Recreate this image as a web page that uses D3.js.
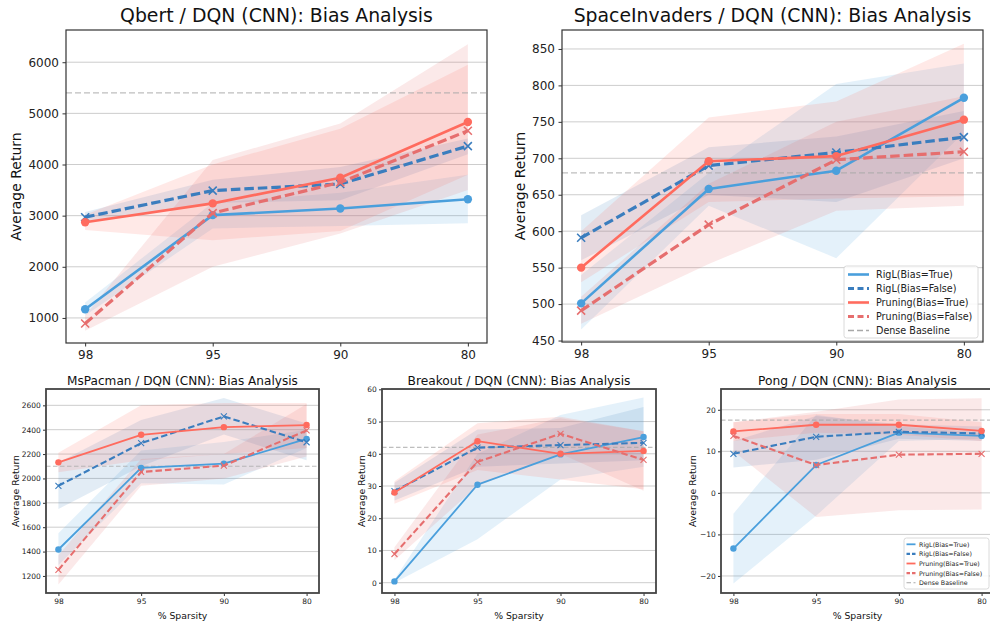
<!DOCTYPE html>
<html>
<head>
<meta charset="utf-8">
<script src="https://cdn.jsdelivr.net/npm/d3@7"></script>
<style>
html,body{margin:0;padding:0;background:#fff;}
svg{display:block;font-family:"DejaVu Sans",sans-serif;}
</style>
</head>
<body>
<svg id="chart" width="990" height="622"></svg>
<script>
// ---------------- DATA ----------------
const sparsity = ["98", "95", "90", "80"];
const methods = ["RigL(Bias=True)", "RigL(Bias=False)", "Pruning(Bias=True)", "Pruning(Bias=False)"];
const baselineLabel = "Dense Baseline";
const titles = [
  "Qbert / DQN (CNN): Bias Analysis",
  "SpaceInvaders / DQN (CNN): Bias Analysis",
  "MsPacman / DQN (CNN): Bias Analysis",
  "Breakout / DQN (CNN): Bias Analysis",
  "Pong / DQN (CNN): Bias Analysis"
];
const baselines = [5400, 680, 2100, 42, 17.5];

// order within each: RigL(True), RigL(False), Pruning(True), Pruning(False)
const qbertMean = [[1170, 3010, 3140, 3320], [2970, 3490, 3620, 4360], [2870, 3240, 3740, 4830], [890, 3050, 3650, 4660]];
const qbertLow  = [[1050, 2750, 2800, 2850], [2880, 3250, 3300, 4200], [2720, 2520, 2700, 3800], [750, 2000, 2650, 3500]];
const qbertHigh = [[1300, 3250, 3450, 3800], [3070, 3700, 3950, 4510], [3020, 4000, 4700, 5950], [1050, 4090, 4800, 6350]];

const invadersMean = [[501, 658, 683, 783], [591, 690, 708, 729], [550, 696, 703, 753], [491, 609, 698, 709]];
const invadersLow  = [[465, 635, 563, 735], [560, 650, 640, 700], [530, 640, 645, 648], [473, 555, 628, 635]];
const invadersHigh = [[540, 680, 802, 830], [622, 715, 730, 765], [600, 756, 778, 857], [510, 665, 750, 785]];

const pacmanMean = [[1417, 2086, 2121, 2325], [1940, 2289, 2509, 2297], [2132, 2358, 2421, 2438], [1250, 2053, 2105, 2394]];
const pacmanLow  = [[1290, 1960, 1950, 2250], [1750, 2100, 2360, 2150], [2050, 2150, 2200, 2250], [1130, 1940, 2000, 2180]];
const pacmanHigh = [[1550, 2230, 2300, 2400], [2130, 2480, 2660, 2450], [2210, 2600, 2620, 2620], [1370, 2160, 2200, 2610]];

const breakoutMean = [[0.4, 30.4, 39.8, 45.2], [28.4, 41.9, 42.7, 43.4], [28.0, 43.9, 40.0, 40.9], [8.9, 37.5, 46.2, 38.1]];
const breakoutLow  = [[0, 13.5, 32, 36], [25.5, 36, 37, 38], [24.5, 35, 32, 29], [7, 30, 40, 28.5]];
const breakoutHigh = [[1, 40, 52, 57.5], [31, 47.5, 48, 54.5], [31.5, 49.5, 51.5, 47], [11, 46, 51, 47]];

const pongMean = [[-13.4, 6.7, 14.5, 13.7], [9.4, 13.5, 14.7, 14.3], [14.8, 16.4, 16.4, 14.9], [13.7, 6.7, 9.2, 9.4]];
const pongLow  = [[-21.8, -5.5, 12.5, 13], [6.1, 8, 13, 12.5], [12.5, 14.5, 14, 12.5], [10, -5.8, -4.2, -4]];
const pongHigh = [[-5, 18.8, 16, 14.5], [12.5, 18.5, 16.5, 16], [17, 19, 19, 17], [17, 19.5, 22.5, 22.8]];

const qbertTicks = [1000, 2000, 3000, 4000, 5000, 6000];
const invadersTicks = [450, 500, 550, 600, 650, 700, 750, 800, 850];
const pacmanTicks = [1200, 1400, 1600, 1800, 2000, 2200, 2400, 2600];
const breakoutTicks = [0, 10, 20, 30, 40, 50, 60];
const pongTicks = [-20, -10, 0, 10, 20];

const yDomains = [[510, 6630], [448, 876], [1060, 2734], [-3.2, 60.1], [-24.1, 25.0]];

// ---------------- STYLE ----------------
const colors = ["#4a9fdc", "#3a7dbe", "#ff6b5e", "#e66e6e"];
const dashedMethod = [false, true, false, true];
const circleMethod = [true, false, true, false];

const big = {title: 17, tick: 12, label: 14, lw: 2.6, lwDash: 3.2, dash: "9.5,4", r: 4.2, xs: 4, baseW: 1.4, baseDash: "6,3", frame: "#333", frameW: 1.2, tickLen: 3.5, tickPad: 3.5};
const small = {title: 12, tick: 7.5, label: 9.3, lw: 1.8, lwDash: 2.1, dash: "6.5,3", r: 3.2, xs: 3, baseW: 1.1, baseDash: "4.5,2.5", frame: "#444", frameW: 1.8, tickLen: 3, tickPad: 2.2};

const panels = [
  {x: 66, y: 30, w: 421, h: 313, st: big, titleW: 313, mean: qbertMean, lo: qbertLow, hi: qbertHigh, ticks: qbertTicks, ylx: 16, xlabel: false, legend: false},
  {x: 562, y: 30, w: 421, h: 312, st: big, titleW: 398, mean: invadersMean, lo: invadersLow, hi: invadersHigh, ticks: invadersTicks, ylx: 520, xlabel: false, legend: "big"},
  {x: 46, y: 389, w: 273, h: 204, st: small, titleW: 231, mean: pacmanMean, lo: pacmanLow, hi: pacmanHigh, ticks: pacmanTicks, ylx: 15, xlabel: true, legend: false},
  {x: 382, y: 389, w: 274, h: 204, st: small, titleW: 223, mean: breakoutMean, lo: breakoutLow, hi: breakoutHigh, ticks: breakoutTicks, ylx: 361, xlabel: true, legend: false},
  {x: 721, y: 389, w: 273, h: 204, st: small, titleW: 199, mean: pongMean, lo: pongLow, hi: pongHigh, ticks: pongTicks, ylx: 692, xlabel: true, legend: "small"}
];

const svg = d3.select("#chart");

function fitText(sel, targetW) {
  const node = sel.node();
  const fs = parseFloat(sel.attr("font-size"));
  const w = node.getComputedTextLength();
  if (w > 0) sel.attr("font-size", (fs * targetW / w).toFixed(2));
}

function xMarker(g, cx, cy, s, color, sw) {
  g.append("path")
    .attr("d", `M${cx - s},${cy - s}L${cx + s},${cy + s}M${cx - s},${cy + s}L${cx + s},${cy - s}`)
    .attr("stroke", color).attr("stroke-width", sw).attr("fill", "none");
}

panels.forEach((p, pi) => {
  const st = p.st;
  const g = svg.append("g").attr("transform", `translate(${p.x},${p.y})`);
  const x = d3.scaleLinear().domain([-0.15, 3.15]).range([0, p.w]);
  const y = d3.scaleLinear().domain(yDomains[pi]).range([p.h, 0]);

  const defs = svg.append("defs");
  defs.append("clipPath").attr("id", "clip" + pi).append("rect").attr("width", p.w).attr("height", p.h);
  const inner = g.append("g").attr("clip-path", `url(#clip${pi})`);

  // grid
  inner.selectAll(".grid").data(p.ticks).enter().append("line")
    .attr("x1", 0).attr("x2", p.w)
    .attr("y1", d => y(d)).attr("y2", d => y(d))
    .attr("stroke", "#b0b0b0").attr("stroke-opacity", 0.7).attr("stroke-width", 0.9);

  // bands
  const idx = [0, 1, 2, 3];
  methods.forEach((m, mi) => {
    const area = d3.area()
      .x(i => x(i))
      .y0(i => y(p.lo[mi][i]))
      .y1(i => y(p.hi[mi][i]));
    inner.append("path").attr("d", area(idx))
      .attr("fill", colors[mi]).attr("fill-opacity", 0.15).attr("stroke", "none");
  });

  // baseline
  inner.append("line").attr("x1", 0).attr("x2", p.w)
    .attr("y1", y(baselines[pi])).attr("y2", y(baselines[pi]))
    .attr("stroke", "#a8a8a8").attr("stroke-opacity", 0.75)
    .attr("stroke-width", st.baseW).attr("stroke-dasharray", st.baseDash);

  // lines
  methods.forEach((m, mi) => {
    const line = d3.line().x(i => x(i)).y(i => y(p.mean[mi][i]));
    inner.append("path").attr("d", line(idx))
      .attr("fill", "none").attr("stroke", colors[mi])
      .attr("stroke-width", dashedMethod[mi] ? st.lwDash : st.lw)
      .attr("stroke-dasharray", dashedMethod[mi] ? st.dash : null)
      .attr("stroke-linejoin", "round");
    idx.forEach(i => {
      if (circleMethod[mi]) {
        inner.append("circle").attr("cx", x(i)).attr("cy", y(p.mean[mi][i])).attr("r", st.r).attr("fill", colors[mi]);
      } else {
        xMarker(inner, x(i), y(p.mean[mi][i]), st.xs, colors[mi], st.lw * 0.6);
      }
    });
  });

  // axes
  const yAxis = d3.axisLeft(y).tickValues(p.ticks).tickSize(st.tickLen).tickPadding(st.tickPad).tickFormat(d3.format("d"));
  const ya = g.append("g").call(yAxis);
  ya.select(".domain").remove();
  ya.selectAll("text").attr("font-size", st.tick).attr("fill", "#222").attr("font-family", "DejaVu Sans").text(d => d < 0 ? "\u2212" + Math.abs(d) : d);
  ya.selectAll("line").attr("stroke", "#333");

  const xAxis = d3.axisBottom(x).tickValues(idx).tickFormat(i => sparsity[i]).tickSize(st.tickLen).tickPadding(st.tickPad);
  const xa = g.append("g").attr("transform", `translate(0,${p.h})`).call(xAxis);
  xa.select(".domain").remove();
  xa.selectAll("text").attr("font-size", st.tick).attr("fill", "#222").attr("font-family", "DejaVu Sans");
  xa.selectAll("line").attr("stroke", "#333");

  // frame
  g.append("rect").attr("width", p.w).attr("height", p.h)
    .attr("fill", "none").attr("stroke", st.frame).attr("stroke-width", st.frameW);

  // title
  const t = g.append("text").attr("x", p.w / 2).attr("y", st === big ? -8 : -4)
    .attr("text-anchor", "middle").attr("font-size", st.title).attr("fill", "#111").text(titles[pi]);
  fitText(t, p.titleW);

  // y label
  svg.append("text").attr("transform", `translate(${p.ylx},${p.y + p.h / 2}) rotate(-90)`)
    .attr("text-anchor", "middle").attr("dominant-baseline", "central")
    .attr("font-size", st.label).attr("fill", "#111").text("Average Return");

  if (p.xlabel) {
    g.append("text").attr("x", p.w / 2).attr("y", p.h + 26)
      .attr("text-anchor", "middle").attr("font-size", 9.3).attr("fill", "#111").text("% Sparsity");
  }

  // legend
  if (p.legend) {
    const L = p.legend === "big"
      ? {w: 134, h: 72, fs: 9.6, row: 14, line: 21, pad: 4, gap: 7}
      : {w: 85, h: 51, fs: 6.3, row: 9.6, line: 9, pad: 2.5, gap: 3.5};
    const lx = p.legend === "big" ? p.w - L.w - 5 : 904 - p.x;
    const ly = p.h - L.h - 4;
    const lg = g.append("g").attr("transform", `translate(${lx},${ly})`);
    lg.append("rect").attr("width", L.w).attr("height", L.h).attr("rx", 2.5)
      .attr("fill", "#fff").attr("fill-opacity", 0.85).attr("stroke", "#d0d0d0").attr("stroke-width", 0.8);
    const entries = methods.map((m, mi) => ({label: m, color: colors[mi], dash: dashedMethod[mi], w: dashedMethod[mi] ? st.lwDash : st.lw}));
    entries.push({label: baselineLabel, color: "#a8a8a8", dash: true, w: st.baseW, base: true});
    entries.forEach((e, ei) => {
      const cy = L.row * 0.5 + 1.5 + ei * L.row;
      lg.append("line").attr("x1", L.pad).attr("x2", L.pad + L.line).attr("y1", cy).attr("y2", cy)
        .attr("stroke", e.color).attr("stroke-width", e.w)
        .attr("stroke-dasharray", e.dash ? (e.base ? st.baseDash : (p.legend === "big" ? "6,3.5" : "3.5,2")) : null);
      lg.append("text").attr("x", L.pad + L.line + L.gap).attr("y", cy).attr("dominant-baseline", "central")
        .attr("font-size", L.fs).attr("fill", "#222").text(e.label);
    });
  }
});
</script>
</body>
</html>
